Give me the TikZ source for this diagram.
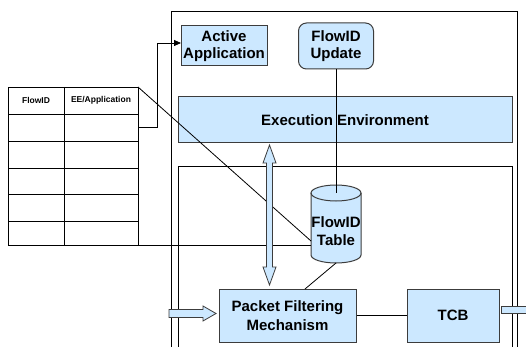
\documentclass[tikz,border=0pt]{standalone}
\usepackage{fontspec}
\setmainfont{Liberation Sans}
\usetikzlibrary{arrows.meta}
\definecolor{lb}{RGB}{204,232,255}
\definecolor{bd}{RGB}{60,60,60}
\begin{document}
\begin{tikzpicture}[x=1pt,y=-1pt,
  box/.style={draw=bd, line width=1pt, fill=lb, inner sep=0pt, align=center,
              font=\bfseries\fontsize{15}{17}\selectfont},
  ln/.style={draw=black, line width=0.8pt},
  hollow/.style={draw=bd, line width=0.8pt, fill=lb, line join=miter},
  hdr/.style={inner sep=0pt, font=\bfseries\fontsize{8.5}{10}\selectfont}]

\useasboundingbox (0,0) rectangle (526,347);
\clip (0,0) rectangle (526,347);
\fill[white] (0,0) rectangle (526,347);

% frames
\draw[ln] (171,360) -- (171,11) -- (517,11) -- (517,360);
\draw[ln] (178,360) -- (178,166) -- (512,166) -- (512,360);

% table
\draw[ln] (8,87) rectangle (138,245);
\draw[ln] (64,87) -- (64,245);
\foreach \yy in {114,141,168,194,221} \draw[ln] (8,\yy) -- (138,\yy);
\node[hdr] (h1) at (36,100.5) {FlowID};
\node[hdr] (h2) at (101,100.5) {EE/Application};
\coordinate (tTR) at (138,87);
\coordinate (tBL) at (8,245);
\coordinate (tOut) at (138,127);

% boxes
\node[box, minimum width=86pt, minimum height=40pt] (aa) at (224,46) {Active\\Application};
\node[box, rounded corners=8pt, minimum width=75pt, minimum height=46pt] (fu) at (336,46) {FlowID\\Update};
\node[box, minimum width=334pt, minimum height=46pt] (ee) at (345,120) {Execution Environment};
\node[box, minimum width=137pt, minimum height=53pt, font=\bfseries\fontsize{15}{19}\selectfont] (pf) at (287.5,315.5) {Packet Filtering\\Mechanism};
\node[box, minimum width=92pt, minimum height=53pt] (tcb) at (453,315.5) {TCB};

% cylinder
\fill[lb] (311,193) -- (311,255) arc (180:360:25pt and 8pt) -- (361,193) arc (0:180:25pt and 8pt) -- cycle;
\draw[draw=bd, line width=1pt] (311,193) -- (311,255) arc (180:360:25pt and 8pt) -- (361,193);
\draw[draw=bd, line width=1pt] (336,193) ellipse (25pt and 8pt);
\node[inner sep=0pt, align=center, font=\bfseries\fontsize{15}{18}\selectfont] (tbl) at (336,231) {FlowID\\Table};
\coordinate (cylTop) at (336,193);
\coordinate (cylBot) at (336,263);
\coordinate (cylL) at (311,241);
\coordinate (cylL2) at (311,245);

% connectors
\draw[ln] (fu.south) -- (cylTop);
\draw[ln] (cylBot) -- (305,289);
\draw[ln] (pf.east) -- (tcb.west);
\draw[ln] (tTR) -- (cylL);
\draw[ln] (tBL) -- (cylL2);
\coordinate (aaIn) at (181,43);
\draw[ln, -{Triangle[length=7pt,width=6pt]}] (tOut) -- (157,127) |- (aaIn);

% hollow arrows
\draw[hollow] (269.5,145) -- (276,163) -- (272.5,163) -- (272.5,267) -- (276,267) -- (269.5,285)
  -- (263,267) -- (266.5,267) -- (266.5,163) -- (263,163) -- cycle;
\draw[hollow] (169,309.5) -- (203,309.5) -- (203,306) -- (216,313.5) -- (203,321) -- (203,317.5) -- (169,317.5) -- cycle;
\draw[hollow] (501,306) rectangle (535,313);

\end{tikzpicture}
\end{document}
